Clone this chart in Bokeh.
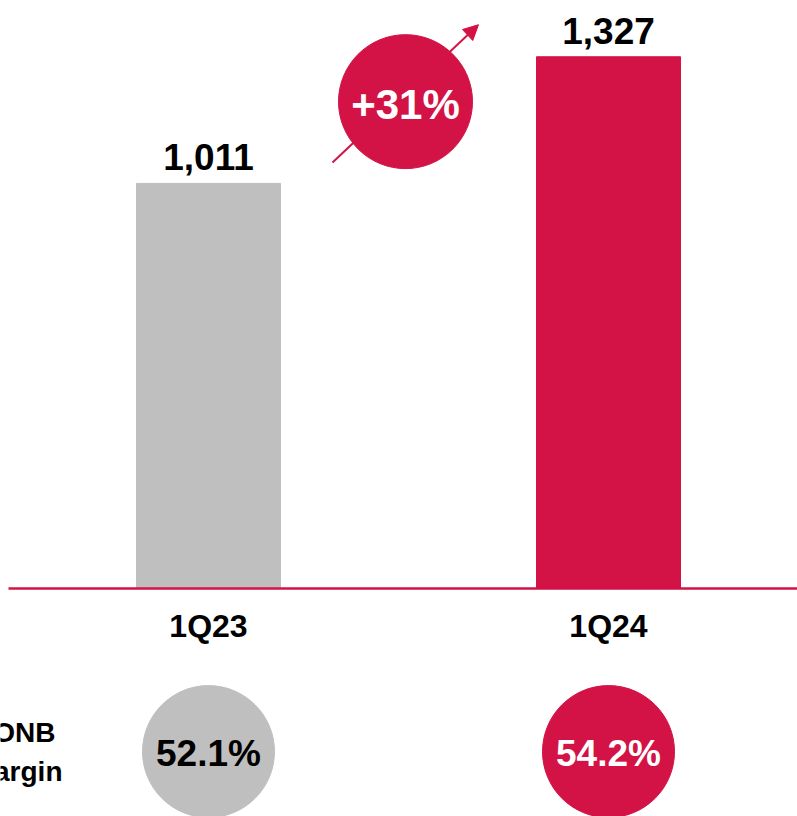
from bokeh.plotting import figure
from bokeh.models import Range1d, Arrow, NormalHead, ColumnDataSource
from bokeh.core.properties import value
from bokeh.embed import file_html
from bokeh.resources import INLINE

# ---- data ----
categories = ["1Q23", "1Q24"]
values = [1011, 1327]
margins = ["52.1%", "54.2%"]
margin_label = ["ONB", "margin"]

CRIMSON = "#D31245"
GRAY = "#BFBFBF"
bar_colors = [GRAY, CRIMSON]
FONT = value("Liberation Sans")

xs = list(range(len(categories)))
value_labels = [f"{v:,}" for v in values]
growth = round((values[-1] / values[0] - 1) * 100)
growth_label = f"+{growth}%"

p = figure(width=797, height=816, output_backend="svg", toolbar_location=None,
           x_range=Range1d(-0.52, 1.4725), y_range=Range1d(-569, 1467.4),
           min_border=0, min_border_left=0, min_border_right=0,
           min_border_top=0, min_border_bottom=0)
p.axis.visible = False
p.grid.visible = False
p.outline_line_color = None
p.background_fill_color = "white"
p.border_fill_color = "white"

src = ColumnDataSource(dict(x=xs, top=values, color=bar_colors, lab=value_labels,
                            cat=categories, m=margins,
                            mtext=["black", "white"]))

p.vbar(x="x", top="top", width=0.36, color="color", source=src)

# baseline
p.segment(x0=[-0.5], y0=[0], x1=[1.5], y1=[0], line_color=CRIMSON, line_width=2.5)

p.text(x="x", y="top", text="lab", source=src, y_offset=-26,
       text_align="center", text_baseline="alphabetic",
       text_font=FONT, text_font_style="bold", text_font_size="37px", text_color="black")

p.text(x="x", y=0, text="cat", source=src, y_offset=38,
       text_align="center", text_baseline="alphabetic",
       text_font=FONT, text_font_style="bold", text_font_size="32px", text_color="black")

# margin circles
circ_y = -407
p.scatter(x="x", y=circ_y, size=132, color="color", source=src)
p.text(x="x", y=circ_y, text="m", source=src, y_offset=2,
       text_align="center", text_baseline="alphabetic",
       text_font=FONT, text_font_style="bold", text_font_size="37px", text_color="mtext")

# left label (clipped at left edge as in the reference)
p.text(x=[-0.3825, -0.365], y=[circ_y, circ_y], text=margin_label, y_offset=[-19, 20],
       text_align="right", text_baseline="alphabetic",
       text_font=FONT, text_font_style="bold", text_font_size="28px", text_color="black")

# growth arrow + bubble
arrow = Arrow(end=NormalHead(size=15, fill_color=CRIMSON, line_color=CRIMSON),
              x_start=0.31, y_start=1063, x_end=0.675, y_end=1407,
              line_color=CRIMSON, line_width=2, level="underlay")
p.add_layout(arrow)
p.scatter(x=[0.4925], y=[1215], size=134, color=CRIMSON)
p.text(x=[0.4925], y=[1215], text=[growth_label], y_offset=3,
       text_align="center", text_baseline="alphabetic",
       text_font=FONT, text_font_style="bold", text_font_size="42px", text_color="white")

open("out.html", "w").write(file_html(p, INLINE))
